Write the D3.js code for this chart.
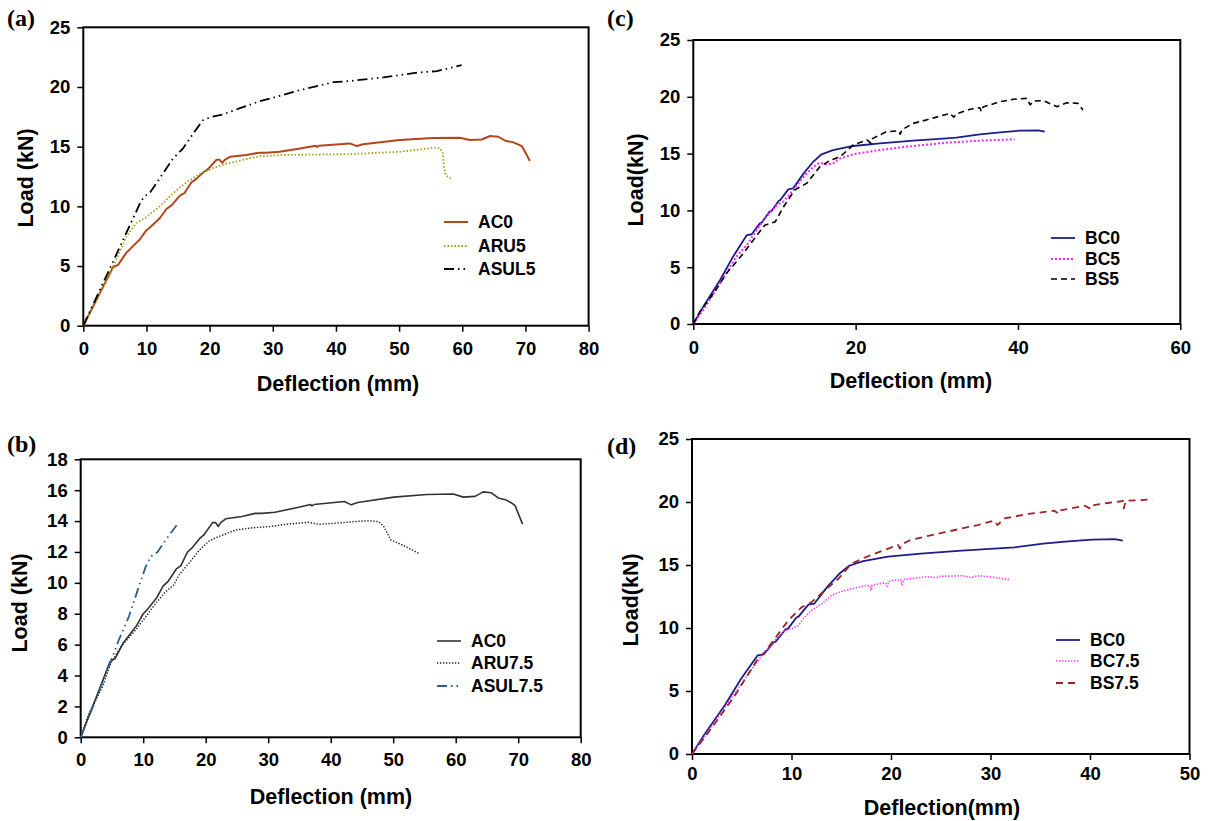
<!DOCTYPE html>
<html>
<head>
<meta charset="utf-8">
<script src="https://cdnjs.cloudflare.com/ajax/libs/d3/7.8.5/d3.min.js"></script>
<style>
  body { margin: 0; background: #fff; }
  text { font-family: "Liberation Sans", Arial, sans-serif; font-weight: bold; }
</style>
</head>
<body>
<div id="chart"></div>
<script>
// load (kN) vs deflection (mm): [deflection, load]
let AC0 = [[0,0],[2.5,2.6],[4.7,4.9],[5.5,5.1],[6.8,6.1],[8.5,7.0],[8.9,7.2],[10,8.0],[10.5,8.2],[12.1,9.0],[13.2,9.8],[14,10.1],[15.3,10.9],[16,11.1],[17.1,12.0],[17.9,12.3],[19.1,12.9],[19.7,13.1],[21.1,13.9],[21.6,13.9],[22,13.65],[22.4,13.9],[23.2,14.15],[25.8,14.3],[27.9,14.5],[29,14.5],[31.1,14.57],[34.3,14.85],[36.8,15.07],[37,14.98],[37.3,15.07],[42.2,15.27],[43.3,15.05],[44.3,15.2],[50.1,15.55],[55.4,15.72],[59.6,15.75],[61.2,15.55],[63.1,15.6],[64.4,15.89],[65.7,15.83],[66.8,15.5],[68.1,15.36],[69.1,15.13],[69.5,15.0],[70.1,14.4],[70.7,13.8]];
let ARU5 = [[0,0],[2.5,2.6],[4.7,4.9],[6.8,7.46],[8.4,8.6],[10,9.1],[12.1,10.0],[14.2,11.1],[16.3,12.0],[18.4,12.7],[20.5,13.2],[22.6,13.55],[25.3,13.9],[27.9,14.2],[31.7,14.3],[42.2,14.38],[50.1,14.57],[56.0,14.94],[56.5,14.85],[56.9,14.5],[57.1,13.3],[57.4,12.6],[58.3,12.3]];
let ASUL5 = [[0,0],[9.2,10.5],[10,10.95],[10.5,11.1],[12.1,12.35],[14.2,14.0],[15.8,14.86],[17.4,16.1],[18.9,17.2],[20.3,17.5],[22.1,17.7],[24.7,18.2],[27.9,18.8],[29.6,19.04],[34.3,19.74],[39.6,20.4],[42.2,20.5],[47.5,20.8],[52.8,21.2],[56.0,21.33],[59.9,21.83]];
let ARU75 = [[0,0],[1.33,1.55],[3.5,3.28],[4.8,4.79],[6.5,5.9],[8.8,6.95],[10.4,7.8],[12,8.67],[13.6,9.43],[14.9,9.86],[15.7,10.5],[17.3,11.26],[18.9,12.08],[20.5,12.7],[22.1,13.0],[24.8,13.42],[27.5,13.57],[30.1,13.64],[32.8,13.79],[36.5,13.92],[38.1,13.79],[40.8,13.86],[43.5,13.96],[46.1,14.03],[47.7,13.96],[48.5,13.64],[49.6,12.78],[51.5,12.45],[54.1,11.91]];
let ASUL75 = [[0,0],[4.8,4.9],[6.1,6.3],[7.7,7.8],[9.3,9.75],[10.4,11.05],[11.2,11.7],[12.3,12.0],[13.6,12.78],[15.6,13.86]];
let BC0 = [[0,0],[1.23,1.53],[3.3,3.87],[4.9,5.93],[6.6,7.83],[7.2,7.9],[8.2,8.86],[8.4,8.92],[9.4,9.89],[9.65,9.95],[10.5,10.83],[10.7,10.9],[11.7,11.85],[12.3,11.94],[13.6,13.26],[14.8,14.3],[15.8,14.94],[17.2,15.3],[19.7,15.67],[23.0,15.9],[27.1,16.14],[31.2,16.34],[32.4,16.4],[35.3,16.7],[37.8,16.87],[40.2,17.02],[42.5,17.05],[43.3,16.93]];
let BC5 = [[0,0],[1.23,1.23],[3.3,3.58],[5.3,5.93],[6.6,6.95],[7.8,8.27],[9.0,9.45],[10.3,10.48],[11.1,10.77],[12.3,11.8],[13.6,12.97],[14.8,13.85],[15.6,14.2],[16.4,14.06],[17.2,14.14],[18.1,14.58],[19.7,14.94],[23.0,15.32],[27.1,15.67],[31.2,15.96],[35.3,16.14],[39.6,16.26]];
let BS5 = [[0,0],[0.82,1.09],[2.5,2.7],[4.1,4.46],[6.0,6.07],[7.4,7.39],[8.8,8.7],[10.1,9.0],[11.1,10.3],[12.5,11.8],[14.0,12.4],[15.6,13.85],[16.8,14.38],[18.1,14.73],[19.7,15.76],[21.4,16.2],[21.9,15.9],[22.1,16.34],[23.8,16.93],[25.3,17.0],[25.5,16.7],[25.7,17.1],[27.1,17.66],[28.7,17.96],[31.6,18.54],[32.1,18.2],[32.4,18.5],[34.1,18.9],[35.3,19.04],[35.5,18.7],[35.7,19.1],[37.8,19.57],[39.4,19.78],[41.1,19.86],[41.5,19.28],[41.9,19.63],[43.1,19.66],[44.8,19.13],[46.0,19.48],[47.4,19.42],[48.0,18.84]];
let BC75 = [[0,0],[2,2.2],[4,4.5],[7.0,7.8],[8.3,9.0],[9.3,9.8],[10.0,9.92],[10.7,10.2],[11.3,10.85],[12.0,11.4],[13.0,11.9],[14.0,12.57],[15.0,12.9],[16.0,13.1],[17.4,13.36],[17.9,13.36],[18.0,12.96],[18.1,13.4],[19.4,13.6],[19.6,13.3],[19.8,13.7],[20.0,13.76],[21.0,13.84],[21.1,13.4],[21.3,13.86],[21.7,13.9],[23.7,14.07],[24.6,14.0],[24.8,14.1],[27.1,14.15],[28.1,14.0],[28.7,14.15],[30.4,14.02],[31.9,13.84]];
let BS75 = [[0,0],[1.9,1.98],[4.3,4.63],[6.6,7.54],[7.3,8.07],[8.3,9.13],[9.65,10.58],[11.0,11.64],[12.0,12.04],[13.3,12.96],[14.7,13.89],[16.0,15.08],[17.4,15.6],[18.7,16.0],[20.7,16.59],[20.9,16.3],[21.1,16.65],[22.0,17.0],[25.4,17.6],[28.7,18.17],[30.4,18.52],[30.7,18.17],[31.4,18.7],[33.8,19.05],[36.4,19.31],[36.9,19.05],[37.1,19.35],[39.5,19.7],[40.1,19.44],[40.4,19.75],[41.8,19.92],[43.3,20.08],[43.4,19.5],[43.6,20.1],[46.3,20.2]];

// axis ticks
let xTicks80 = [0,10,20,30,40,50,60,70,80];
let xTicks60 = [0,20,40,60];
let xTicks50 = [0,10,20,30,40,50];
let yTicks25 = [0,5,10,15,20,25];
let yTicks18 = [0,2,4,6,8,10,12,14,16,18];

let svg = d3.select("#chart").append("svg")
    .attr("width", 1213)
    .attr("height", 821);

svg.append("rect").attr("width", 1213).attr("height", 821).attr("fill", "#fff");

let panels = [
  { tag: "(a)", tagX: 7, tagY: 26,
    left: 83.3, right: 588.6, top: 27.3, bottom: 325.7, xPad: 10,
    xTicks: xTicks80, yTicks: yTicks25,
    xTitle: "Deflection (mm)", xTitleX: 338, xTitleY: 391,
    yTitle: "Load (kN)", yTitleX: 25, yTitleY: 178,
    legX: 444, legY: [222, 246, 269],
    series: [
      { name: "AC0", data: AC0, color: "#b4461c", width: 2, dash: null },
      { name: "ARU5", data: ARU5, color: "#a0a018", width: 1.8, dash: "1.5,2" },
      { name: "ASUL5", data: ASUL5, color: "#000", width: 1.8, dash: "10,4,1.5,4,1.5,4" }
    ] },
  { tag: "(b)", tagX: 7, tagY: 452,
    left: 80.7, right: 580.7, top: 459.3, bottom: 737.3, xPad: 10,
    xTicks: xTicks80, yTicks: yTicks18,
    xTitle: "Deflection (mm)", xTitleX: 331, xTitleY: 803.5,
    yTitle: "Load (kN)", yTitleX: 19, yTitleY: 603,
    legX: 437, legY: [641, 663, 686],
    series: [
      { name: "AC0", data: AC0, color: "#333", width: 1.6, dash: null },
      { name: "ARU7.5", data: ARU75, color: "#222", width: 1.5, dash: "1.3,1.7" },
      { name: "ASUL7.5", data: ASUL75, color: "#2d5d8c", width: 1.8, dash: "10,4,1.5,4,1.5,4" }
    ] },
  { tag: "(c)", tagX: 607, tagY: 26,
    left: 693.3, right: 1180.3, top: 40, bottom: 324, xPad: 11,
    xTicks: xTicks60, yTicks: yTicks25,
    xTitle: "Deflection (mm)", xTitleX: 911, xTitleY: 388,
    yTitle: "Load(kN)", yTitleX: 635, yTitleY: 180,
    legX: 1051, legY: [238, 259, 279],
    series: [
      { name: "BC0", data: BC0, color: "#1c1c8e", width: 1.8, dash: null },
      { name: "BC5", data: BC5, color: "#ff22ff", width: 2, dash: "2,2" },
      { name: "BS5", data: BS5, color: "#000", width: 1.6, dash: "6,4" }
    ] },
  { tag: "(d)", tagX: 607, tagY: 454,
    left: 692, right: 1189.5, top: 439, bottom: 754, xPad: 7,
    xTicks: xTicks50, yTicks: yTicks25,
    xTitle: "Deflection(mm)", xTitleX: 942, xTitleY: 815,
    yTitle: "Load(kN)", yTitleX: 630, yTitleY: 600,
    legX: 1056, legY: [640, 661, 683],
    series: [
      { name: "BC0", data: BC0, color: "#1c1c8e", width: 1.8, dash: null },
      { name: "BC7.5", data: BC75, color: "#ff44ff", width: 1.6, dash: "1.5,1.5" },
      { name: "BS7.5", data: BS75, color: "#9c2626", width: 1.8, dash: "7,5" }
    ] }
];

panels.forEach(drawPanel);

function drawPanel(p) {
  let g = svg.append("g");

  let xScale = d3.scaleLinear()
      .domain([p.xTicks[0], p.xTicks[p.xTicks.length - 1]])
      .range([p.left, p.right]);
  let yScale = d3.scaleLinear()
      .domain([p.yTicks[0], p.yTicks[p.yTicks.length - 1]])
      .range([p.bottom, p.top]);

  // axes
  let xAxis = g.append("g")
      .attr("transform", "translate(0," + p.bottom + ")")
      .call(d3.axisBottom(xScale).tickValues(p.xTicks).tickSize(6).tickPadding(p.xPad).tickFormat(d3.format("d")));
  let yAxis = g.append("g")
      .attr("transform", "translate(" + p.left + ",0)")
      .call(d3.axisLeft(yScale).tickValues(p.yTicks).tickSize(6).tickPadding(7).tickFormat(d3.format("d")));

  [xAxis, yAxis].forEach(function(a) {
    a.select(".domain").remove();
    a.selectAll("line").attr("stroke", "#000").attr("stroke-width", 1.5);
    a.selectAll("text")
      .attr("fill", "#000")
      .style("font-size", "18.5px")
      .style("font-family", "'Liberation Sans', Arial, sans-serif")
      .style("font-weight", "bold");
  });

  // plot frame
  g.append("rect")
      .attr("x", p.left).attr("y", p.top)
      .attr("width", p.right - p.left).attr("height", p.bottom - p.top)
      .attr("fill", "none").attr("stroke", "#000").attr("stroke-width", 2);

  let line = d3.line()
      .x(function(d) { return xScale(d[0]); })
      .y(function(d) { return yScale(d[1]); });

  p.series.forEach(function(s) {
    g.append("path")
      .datum(s.data)
      .attr("d", line)
      .attr("fill", "none")
      .attr("stroke", s.color)
      .attr("stroke-width", s.width)
      .attr("stroke-dasharray", s.dash)
      .attr("stroke-linejoin", "round");
  });

  // legend
  p.series.forEach(function(s, i) {
    let ly = p.legY[i];
    g.append("line")
      .attr("x1", p.legX).attr("x2", p.legX + 24)
      .attr("y1", ly).attr("y2", ly)
      .attr("stroke", s.color)
      .attr("stroke-width", s.width)
      .attr("stroke-dasharray", s.dash);
    g.append("text")
      .attr("x", p.legX + 34).attr("y", ly)
      .attr("dy", "0.36em")
      .style("font-size", "17.5px")
      .text(s.name);
  });

  // axis titles
  g.append("text")
      .attr("x", p.xTitleX).attr("y", p.xTitleY)
      .attr("text-anchor", "middle")
      .style("font-size", "21.5px")
      .text(p.xTitle);
  g.append("text")
      .attr("transform", "translate(" + p.yTitleX + "," + p.yTitleY + ") rotate(-90)")
      .attr("text-anchor", "middle")
      .attr("dy", "0.36em")
      .style("font-size", "21.5px")
      .text(p.yTitle);

  // panel tag
  g.append("text")
      .attr("x", p.tagX).attr("y", p.tagY)
      .style("font-family", "'Liberation Serif', 'Times New Roman', serif")
      .style("font-size", "24px")
      .text(p.tag);
}
</script>
</body>
</html>
